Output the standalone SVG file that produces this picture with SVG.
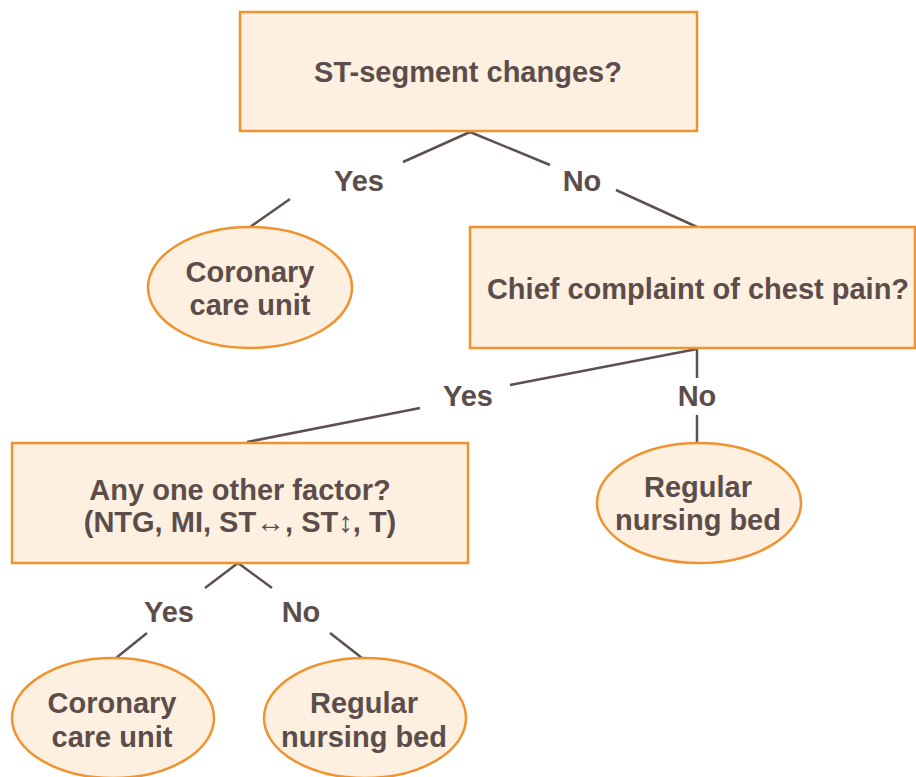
<svg xmlns="http://www.w3.org/2000/svg" width="916" height="777" viewBox="0 0 916 777">
<style>
.box{fill:#fdf0e1;stroke:#f0922e;stroke-width:2.5}
.t{font-family:"Liberation Sans",Arial,sans-serif;font-weight:bold;font-size:29px;fill:#5c4d4a;text-anchor:middle}
.c{stroke:#5e504d;stroke-width:2.5;fill:none}
</style>
<rect width="916" height="777" fill="#ffffff"/>
<g id="connectors">
<path class="c" d="M470,132 L403,162 M290,199 L250,227"/>
<path class="c" d="M470,132 L550,165 M616,190 L697,227"/>
<path class="c" d="M697,349 L510,385 M420,408 L247,442"/>
<path class="c" d="M697,349 L697,378 M697,415 L697,443"/>
<path class="c" d="M238,563 L205,588 M147,633 L116,658"/>
<path class="c" d="M238,563 L272,588 M330,633 L362,658"/>
</g>
<g id="labels">
<text class="t" x="359" y="191">Yes</text>
<text class="t" x="582" y="191">No</text>
<text class="t" x="468" y="406">Yes</text>
<text class="t" x="697" y="406">No</text>
<text class="t" x="169" y="622">Yes</text>
<text class="t" x="301" y="622">No</text>
</g>
<g id="n1">
<rect class="box" x="240" y="12" width="457" height="119"/>
<text class="t" x="468" y="82">ST-segment changes?</text>
</g>
<g id="n2">
<ellipse class="box" cx="250" cy="287.5" rx="102" ry="60.5"/>
<text class="t" x="250" y="282">Coronary</text>
<text class="t" x="250" y="315">care unit</text>
</g>
<g id="n3">
<rect class="box" x="470" y="227" width="445" height="121"/>
<text class="t" x="698" y="299">Chief complaint of chest pain?</text>
</g>
<g id="n4">
<rect class="box" x="12" y="443" width="456" height="120"/>
<text class="t" x="240" y="500">Any one other factor?</text>
<text class="t" x="240" y="532">(NTG, MI, ST↔, ST↕, T)</text>
</g>
<g id="n5">
<ellipse class="box" cx="699" cy="503" rx="102" ry="60"/>
<text class="t" x="698" y="497">Regular</text>
<text class="t" x="698" y="530">nursing bed</text>
</g>
<g id="n6">
<ellipse class="box" cx="113" cy="718" rx="101" ry="60"/>
<text class="t" x="112" y="713">Coronary</text>
<text class="t" x="112" y="747">care unit</text>
</g>
<g id="n7">
<ellipse class="box" cx="365" cy="718" rx="101" ry="60"/>
<text class="t" x="364" y="713">Regular</text>
<text class="t" x="364" y="747">nursing bed</text>
</g>
</svg>
